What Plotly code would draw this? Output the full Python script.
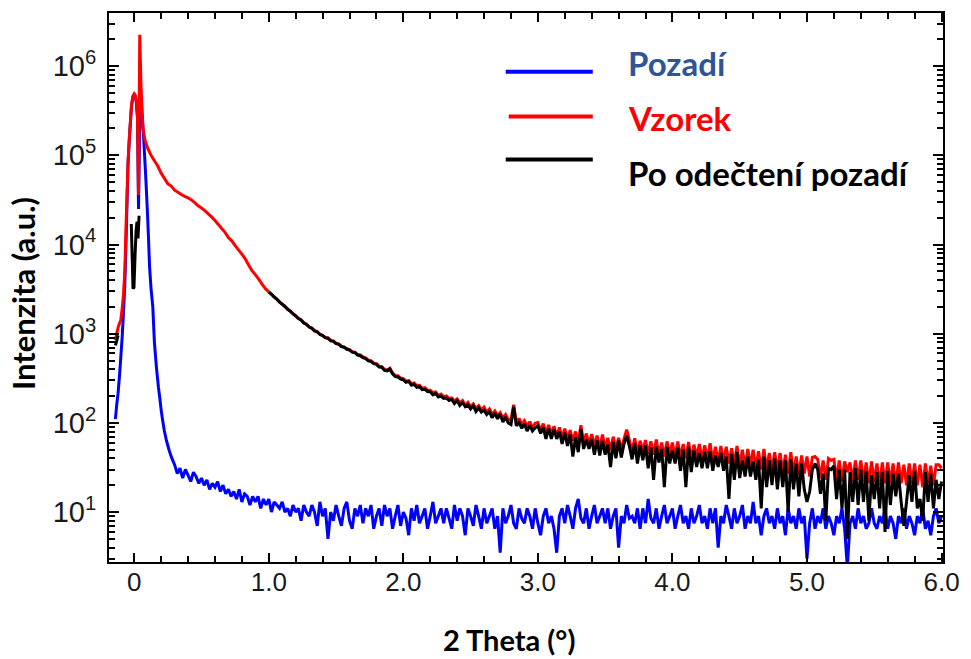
import numpy as np
import plotly.graph_objects as go

# ---------------- data ----------------
# Vzorek (sample) - peak region, hand-picked x
red_head_x = [-0.14, -0.13, -0.12, -0.11, -0.10, -0.09, -0.08, -0.07, -0.06, -0.046, -0.035,
              -0.02, -0.01, 0.0, 0.008, 0.016, 0.024, 0.032, 0.041, 0.050, 0.065, 0.08]
red_head_y = [850, 1000, 1170, 1300, 1410, 1900, 2700, 5000, 17800, 85000, 170000,
              370000, 460000, 490000, 470000, 400000, 280000, 36000, 2250000, 630000, 200000, 148000]
# Vzorek shoulder, x = 0.100 ... 0.975 (step 0.025)
red_shoulder_y = [120000, 100000, 87100, 75900, 63100, 55000, 47900, 45200, 40700, 38500,
                  36300, 34700, 33400, 31600, 29500, 27200, 25700, 24000, 22100, 20400,
                  18600, 16800, 15100, 13700, 12000, 11000, 9700, 8700, 7800, 6900,
                  5900, 5100, 4600, 4100, 3600, 3200]
# Vzorek tail, x = 1.00 ... 6.00 (step 0.02)
red_tail_y = [
    2950, 2780, 2590, 2450, 2270, 2150, 2030, 1890, 1795, 1680,
    1590, 1490, 1430, 1330, 1280, 1195, 1160, 1085, 1055, 990,
    960, 910, 895, 840, 830, 785, 770, 725, 712, 680,
    665, 628, 622, 585, 578, 548, 535, 505, 498, 468,
    462, 432, 428, 398, 392, 410, 362, 340, 338, 318,
    314, 294, 298, 275, 280, 262, 264, 245, 248, 232,
    232, 218, 222, 204, 210, 196, 200, 187, 190, 176,
    186, 168, 178, 158, 170, 152, 163, 146, 156, 139,
    150, 132, 143, 125, 136, 120, 130, 113, 124, 109,
    108, 160, 100, 112, 96, 106, 92, 103, 88, 99,
    101, 82, 98, 77, 95, 75, 92, 70, 89, 69,
    86, 67, 83, 63, 80, 61, 94, 59, 76, 58,
    75, 56, 72, 52, 74, 52, 68, 49, 70, 51,
    68, 50, 66, 84, 64, 48, 67, 46, 63, 49,
    64, 45, 62, 44, 65, 43, 60, 42, 62, 44,
    60, 42, 62, 41, 58, 40, 61, 39, 57, 41,
    58, 39, 56, 38, 59, 37, 54, 36, 55, 37,
    54, 35, 52, 34, 55, 33, 50, 32, 51, 33,
    50, 31, 48, 30, 51, 30, 46, 29, 47, 29,
    46, 28, 44, 27, 47, 27, 42, 26, 43, 27,
    42, 25, 41, 42, 39, 24, 38, 23, 40, 38,
    39, 23, 38, 22, 37, 28, 36, 22, 38, 23,
    38, 22, 36, 21, 37, 22, 35, 20, 36, 21,
    36, 21, 35, 20, 36, 21, 34, 20, 35, 21,
    35, 20, 34, 19, 35, 21, 33, 20, 34, 34,
    31]

# Pozadí (background) - peak region
blue_head_x = [-0.14, -0.13, -0.12, -0.11, -0.10, -0.09, -0.08, -0.07, -0.06, -0.046, -0.035,
               -0.02, -0.01, 0.0, 0.008, 0.016, 0.024, 0.032, 0.042, 0.050, 0.058, 0.068,
               0.077, 0.087, 0.097, 0.106, 0.114, 0.125, 0.138, 0.15, 0.165, 0.18, 0.19,
               0.20, 0.21, 0.224, 0.24, 0.26, 0.28]
blue_head_y = [110, 160, 215, 330, 540, 900, 1700, 3500, 12000, 80000, 165000,
               360000, 450000, 480000, 460000, 390000, 260000, 25000, 300000, 420000, 290000, 180000,
               100000, 52000, 25000, 12000, 5600, 3200, 2000, 800, 420, 250, 190,
               140, 110, 81, 63, 49, 40]
# Pozadí tail, x = 0.30 ... 6.00 (step 0.02)
blue_tail_y = [
    34, 27, 31, 24, 30, 26, 22, 28, 25, 21,
    24, 20, 23, 18, 21, 19, 22, 17, 20, 16,
    18, 15, 17, 14, 18, 13, 16, 15, 12, 15,
    13, 15, 11, 14, 12, 14, 10, 13, 12, 11,
    13, 10, 11, 9, 12, 10, 11, 8, 12, 10,
    9, 12, 10, 7, 13, 9, 11, 5, 10, 8,
    12, 9, 7, 11, 13, 8, 6.5, 11, 9, 12,
    7.5, 11, 9, 12, 6.5, 9, 11, 7, 12, 9,
    11, 6.5, 9, 12, 7, 10, 8.5, 5.5, 11, 8,
    12, 7.5, 9, 11, 6.5, 9, 13, 7.5, 9, 11,
    7.5, 11, 8.5, 6.5, 12, 8, 11, 9, 5.5, 11,
    9, 7, 12, 9, 6.5, 11, 7.5, 9, 11, 6.5,
    9, 3.5, 11, 7.5, 9, 12, 7.5, 6.5, 11, 8.5,
    7.5, 11, 9, 6.5, 11, 7.5, 5.5, 9, 11, 7.5,
    9, 6.5, 3.5, 9, 11, 7.5, 12, 9, 6.5, 11,
    14, 8.5, 7.5, 11, 6.5, 9, 12, 7.5, 9, 11,
    7.5, 11, 6.5, 9, 11, 4, 9, 7.5, 12, 8.5,
    9, 7.5, 11, 6.5, 11, 7.5, 14, 8.5, 7.5, 11,
    6.5, 9, 12, 7.5, 9, 11, 6.5, 9, 12, 7.5,
    9, 6.5, 11, 7.5, 9, 12, 7.5, 9, 6.5, 11,
    7.5, 11, 4, 9, 7.5, 12, 9, 6.5, 11, 7.5,
    9, 12, 6.5, 9, 7.5, 13, 7.5, 9, 5.5, 9,
    11, 7.5, 9, 6.5, 11, 7.5, 9, 5.5, 11, 7.5,
    9, 6.5, 11, 7.5, 9, 3, 7.5, 11, 6.5, 9,
    7.5, 11, 6.5, 9, 7.5, 5.5, 9, 7.5, 11, 6.5,
    2.4, 7.5, 9, 6.5, 11, 7.5, 9, 6.5, 7.5, 11,
    7.5, 6.5, 9, 7.5, 11, 6.5, 9, 7.5, 5, 9,
    7.5, 11, 6.5, 9, 7.5, 5.5, 9, 7.5, 11, 6.5,
    8, 5.5, 9, 11, 7.5, 9]

# Po odečtení pozadí (background subtracted) - peak region (gaps = non-positive values)
black_head_x = [-0.14, -0.13, -0.12, None, -0.022, -0.015, -0.009, -0.002, 0.006, 0.014,
                0.021, 0.028, 0.036]
black_head_y = [740, 830, 960, None, 17000, 7000, 3200, 3300, 7500, 14500,
                18000, 11700, 21000]
# tail, x = 1.00 ... 6.00 (step 0.02)
black_tail_y = [
    2936, 2770, 2577, 2438, 2259, 2137, 2020, 1879, 1786, 1668,
    1580, 1479, 1422, 1318, 1270, 1186, 1149, 1075, 1047, 978,
    951, 900, 890, 830, 821, 774, 761, 717, 702, 668,
    656, 621, 612, 576, 567, 540, 525, 496, 487, 461,
    453, 422, 420, 387, 383, 400, 355, 331, 327, 310,
    304, 285, 292, 265, 271, 251, 256, 236, 238, 225,
    223, 206, 214, 195, 200, 188, 190, 178, 183, 165,
    178, 157, 169, 152, 159, 143, 156, 134, 147, 132,
    139, 124, 134, 114, 129, 111, 126, 102, 116, 100,
    96, 152, 93, 101, 87, 98, 81, 94, 81, 88,
    93, 76, 89, 66, 87, 66, 85, 66, 80, 58,
    78, 55, 74, 42, 69, 47, 85, 51, 65, 51,
    66, 44, 64, 43, 63, 44, 57, 32, 61, 40,
    64, 41, 58, 72, 55, 39, 59, 35, 56, 38,
    56, 31, 53, 23, 54, 36, 51, 19, 54, 35,
    49, 35, 53, 29, 50, 19, 54, 28, 49, 32,
    46, 31, 47, 31, 48, 29, 43, 32, 46, 29,
    42, 14, 45, 23, 47, 24, 38, 25, 42, 25,
    37, 23, 39, 11, 42, 19, 38, 20, 40, 18,
    38, 19, 38, 10, 39, 18, 35, 15, 35, 18,
    13, 17, 30, 35, 30, 16, 27, 8, 31, 30,
    33, 14, 30, 11, 30, 5, 28, 13, 31, 12,
    30, 13, 29, 8, 26, 14, 28, 11, 28, 6,
    29, 12, 27, 15, 27, 13, 7, 13, 26, 13,
    29, 11, 14, 8, 28, 13, 27, 11, 23, 14,
    22]

x_tick_vals = [0, 1, 2, 3, 4, 5, 6]
x_tick_text = ["0", "1.0", "2.0", "3.0", "4.0", "5.0", "6.0"]
y_tick_vals = [1e1, 1e2, 1e3, 1e4, 1e5, 1e6]
y_tick_text = ["10<sup>1</sup>", "10<sup>2</sup>", "10<sup>3</sup>",
               "10<sup>4</sup>", "10<sup>5</sup>", "10<sup>6</sup>"]

series_names = ["Pozadí", "Vzorek", "Po odečtení pozadí"]
series_colors = ["#0000FF", "#FF0000", "#000000"]
legend_text_colors = ["#2F5597", "#FF0000", "#000000"]

# ---------------- assemble series ----------------
shoulder_x = list(np.round(0.1 + 0.025 * np.arange(len(red_shoulder_y)), 3))
tail_x = list(np.round(1.0 + 0.02 * np.arange(len(red_tail_y)), 2))
blue_tail_x = list(np.round(0.3 + 0.02 * np.arange(len(blue_tail_y)), 2))
black_tail_x = list(np.round(1.0 + 0.02 * np.arange(len(black_tail_y)), 2))

red_x = red_head_x + shoulder_x + tail_x
red_y = red_head_y + red_shoulder_y + red_tail_y
blue_x = blue_head_x + blue_tail_x
blue_y = blue_head_y + blue_tail_y
black_x = black_head_x + [None] + black_tail_x
black_y = black_head_y + [None] + black_tail_y

fig = go.Figure()
for xs, ys, nm, col in [(blue_x, blue_y, series_names[0], series_colors[0]),
                        (red_x, red_y, series_names[1], series_colors[1]),
                        (black_x, black_y, series_names[2], series_colors[2])]:
    fig.add_trace(go.Scatter(x=xs, y=ys, mode="lines", name=nm, showlegend=False,
                             connectgaps=False,
                             line=dict(color=col, width=3, simplify=False)))

W, H = 971, 659
ML, MR, MT, MB = 109, 19, 11, 97
PW, PH = W - ML - MR, H - MT - MB

def px(xp):
    return (xp - ML) / PW

def py(yp):
    return 1 - (yp - MT) / PH

minor_x = [v for v in np.round(np.arange(-0.2, 6.01, 0.2), 1) if v not in x_tick_vals]
minor_y = [k * 10 ** n for n in range(0, 7) for k in range(2, 10)]

fig.update_layout(
    width=W, height=H,
    margin=dict(l=ML, r=MR, t=MT, b=MB),
    paper_bgcolor="white", plot_bgcolor="white",
    showlegend=False,
    xaxis=dict(range=[-0.1875, 6.011], showgrid=False, zeroline=False,
               showline=True, linecolor="black", linewidth=2, mirror="allticks",
               ticks="inside", ticklen=9, tickwidth=1.5, tickcolor="black",
               tickmode="array", tickvals=x_tick_vals, ticktext=x_tick_text,
               tickfont=dict(family="Liberation Sans, Arial", size=26, color="#1a1a1a"),
               ticklabelstandoff=-4,
               minor=dict(tickmode="array", tickvals=minor_x, ticks="inside",
                          ticklen=6, tickwidth=1.5, tickcolor="black", showgrid=False)),
    yaxis=dict(type="log", range=[0.44, 6.596], showgrid=False, zeroline=False,
               showline=True, linecolor="black", linewidth=2, mirror="allticks",
               ticks="inside", ticklen=10, tickwidth=1.5, tickcolor="black",
               tickmode="array", tickvals=y_tick_vals, ticktext=y_tick_text,
               tickfont=dict(family="Liberation Sans, Arial", size=29, color="#1a1a1a"),
               ticklabelstandoff=5,
               minor=dict(tickmode="array", tickvals=minor_y, ticks="inside",
                          ticklen=6, tickwidth=1.5, tickcolor="black", showgrid=False)),
)

annotations = [
    dict(text="<b>2 Theta (°)</b>", x=px(513), y=py(640), xref="paper", yref="paper",
         xanchor="center", yanchor="middle", showarrow=False,
         font=dict(family="Lato, Open Sans, sans-serif", size=29, color="black")),
    dict(text="<b>Intenzita (a.u.)</b>", x=px(22), y=py(292), xref="paper", yref="paper",
         xanchor="center", yanchor="middle", showarrow=False, textangle=-90,
         font=dict(family="Lato, Open Sans, sans-serif", size=31, color="black")),
]
leg_line_y = [70, 115, 158]
leg_line_x0 = [510, 513, 510]
leg_text_y = [61, 116, 172]
shapes = []
for i in range(3):
    shapes.append(dict(type="line", xref="paper", yref="paper",
                       x0=px(leg_line_x0[i]), x1=px(598), y0=py(leg_line_y[i]), y1=py(leg_line_y[i]),
                       line=dict(color=series_colors[i], width=4)))
    annotations.append(dict(text="<b>" + series_names[i] + "</b>", x=px(632), y=py(leg_text_y[i]),
                            xref="paper", yref="paper", xanchor="left", yanchor="middle",
                            showarrow=False,
                            font=dict(family="Lato, Open Sans, sans-serif", size=33,
                                      color=legend_text_colors[i])))
fig.update_layout(annotations=annotations, shapes=shapes)

fig.write_html("out.html")
